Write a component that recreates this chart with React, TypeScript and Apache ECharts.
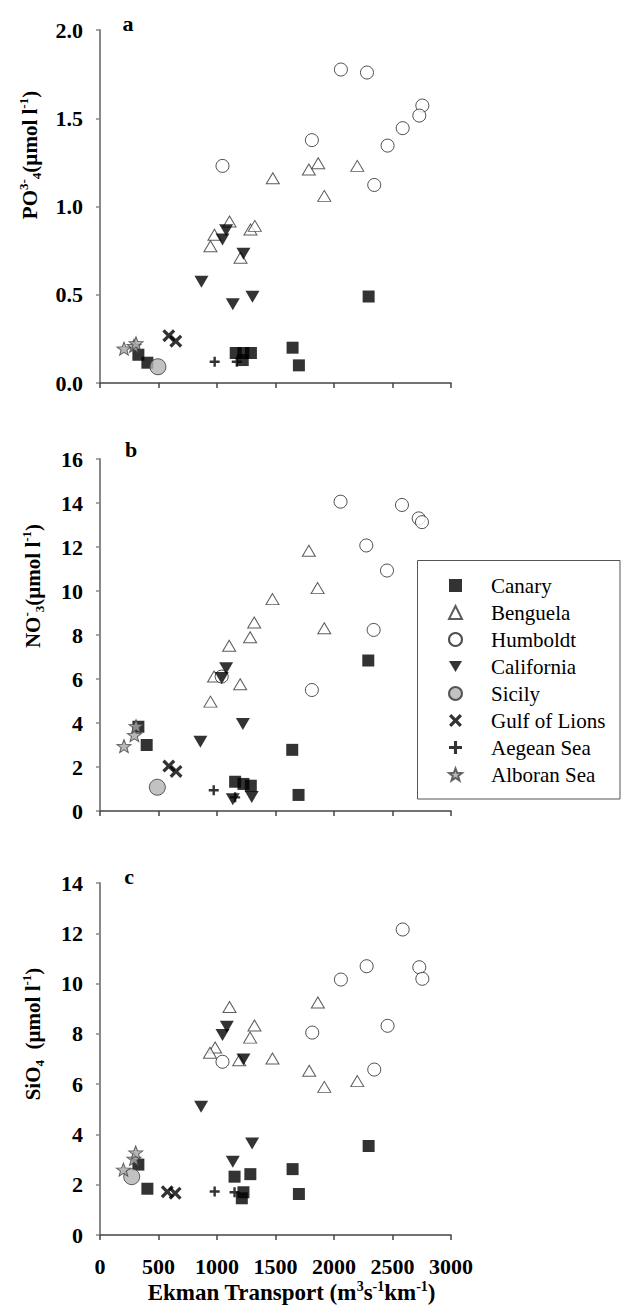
import React, { useEffect, useRef } from "react";
import * as echarts from "echarts";

// ---------- categories ----------
const regions = ["Canary", "Benguela", "Humboldt", "California", "Sicily", "Gulf of Lions", "Aegean Sea", "Alboran Sea"];

// ---------- axis ranges / ticks ----------
const xRange = [0, 3000, 500];
const po4Range = [0, 2, 0.5];
const no3Range = [0, 16, 2];
const sio4Range = [0, 14, 2];

// ---------- panel a : PO4 ----------
const canaryPO4 = [[2296, 0.49], [1646, 0.2], [1700, 0.1], [1160, 0.17], [1225, 0.17], [1290, 0.17], [1220, 0.13], [328, 0.16], [405, 0.115]];
const benguelaPO4 = [[1477, 1.16], [1785, 1.21], [1865, 1.245], [2199, 1.23], [1917, 1.06], [1107, 0.915], [978, 0.84], [944, 0.775], [1286, 0.87], [1323, 0.89], [1201, 0.71]];
const humboldtPO4 = [[2059, 1.776], [2282, 1.759], [2755, 1.572], [2729, 1.515], [2587, 1.444], [1811, 1.376], [2458, 1.345], [1047, 1.23], [2344, 1.122]];
const californiaPO4 = [[1078, 0.865], [1047, 0.813], [1226, 0.733], [867, 0.573], [1303, 0.488], [1135, 0.446]];
const sicilyPO4 = [[495, 0.092]];
const gulfPO4 = [[588, 0.268], [648, 0.237]];
const aegeanPO4 = [[980, 0.12], [1169, 0.12]];
const alboranPO4 = [[205, 0.195], [290, 0.21], [308, 0.225]];

// ---------- panel b : NO3 ----------
const canaryNO3 = [[2293, 6.84], [1643, 2.78], [1697, 0.73], [1155, 1.33], [1226, 1.23], [1289, 1.15], [399, 3.0], [328, 3.83]];
const benguelaNO3 = [[1785, 11.83], [1860, 10.13], [1474, 9.63], [1318, 8.57], [1917, 8.31], [1283, 7.9], [1104, 7.51], [975, 6.11], [1198, 5.76], [944, 4.97]];
const humboldtNO3 = [[2056, 14.06], [2581, 13.91], [2724, 13.3], [2752, 13.13], [2276, 12.07], [2453, 10.93], [2339, 8.23], [1811, 5.5], [1040, 6.11]];
const californiaNO3 = [[1078, 6.49], [1041, 6.04], [1221, 3.96], [858, 3.15], [1135, 0.53], [1297, 0.64]];
const sicilyNO3 = [[490, 1.08]];
const gulfNO3 = [[588, 2.04], [650, 1.8]];
const aegeanNO3 = [[972, 0.94], [1155, 0.62]];
const alboranNO3 = [[205, 2.95], [294, 3.45], [308, 3.86]];

// ---------- panel c : SiO4 ----------
const canarySiO4 = [[2296, 3.54], [1646, 2.62], [1700, 1.63], [1150, 2.32], [1285, 2.42], [1226, 1.7], [1212, 1.46], [405, 1.84], [328, 2.8]];
const benguelaSiO4 = [[1107, 9.07], [1862, 9.25], [1320, 8.33], [1283, 7.85], [984, 7.46], [940, 7.25], [1190, 6.95], [1474, 7.02], [1788, 6.53], [1917, 5.89], [2199, 6.12]];
const humboldtSiO4 = [[2587, 12.15], [2279, 10.69], [2729, 10.65], [2059, 10.16], [2755, 10.19], [2458, 8.32], [1814, 8.05], [1047, 6.89], [2344, 6.58]];
const californiaSiO4 = [[1084, 8.28], [1047, 7.95], [1226, 6.98], [864, 5.1], [1300, 3.64], [1135, 2.91]];
const sicilySiO4 = [[271, 2.32]];
const gulfSiO4 = [[575, 1.72], [642, 1.66]];
const aegeanSiO4 = [[980, 1.73], [1150, 1.7]];
const alboranSiO4 = [[200, 2.6], [290, 3.03], [305, 3.28]];

const panelData = [
  [canaryPO4, benguelaPO4, humboldtPO4, californiaPO4, sicilyPO4, gulfPO4, aegeanPO4, alboranPO4],
  [canaryNO3, benguelaNO3, humboldtNO3, californiaNO3, sicilyNO3, gulfNO3, aegeanNO3, alboranNO3],
  [canarySiO4, benguelaSiO4, humboldtSiO4, californiaSiO4, sicilySiO4, gulfSiO4, aegeanSiO4, alboranSiO4],
];

// ---------- symbols ----------
const X_PATH = "path://M0,18L18,0L50,32L82,0L100,18L68,50L100,82L82,100L50,68L18,100L0,82L32,50Z";
const PLUS_PATH = "path://M38,0H62V38H100V62H62V100H38V62H0V38H38Z";
const INV_TRI = "path://M0,0L100,0L50,86Z";
const STAR_PATH = "path://M50,0L62.3,33L97.6,34.6L70,56.5L79.4,90.5L50,71L20.6,90.5L30,56.5L2.4,34.6L37.7,33Z";

const styles: any[] = [
  { symbol: "rect", symbolSize: 12, itemStyle: { color: "#000" } },
  { symbol: "triangle", symbolSize: [13, 11], itemStyle: { color: "#fff", borderColor: "#333", borderWidth: 1 } },
  { symbol: "circle", symbolSize: 13, itemStyle: { color: "#fff", borderColor: "#222", borderWidth: 1 } },
  { symbol: INV_TRI, symbolSize: [14, 12], itemStyle: { color: "#000" } },
  { symbol: "circle", symbolSize: 16, itemStyle: { color: "#b3b3b3", borderColor: "#333", borderWidth: 1 } },
  { symbol: X_PATH, symbolSize: 13, itemStyle: { color: "#000" } },
  { symbol: PLUS_PATH, symbolSize: 10, itemStyle: { color: "#000" } },
  { symbol: STAR_PATH, symbolSize: [14, 13], itemStyle: { color: "#a6a6a6", borderColor: "#444", borderWidth: 1 } },
];
const drawOrder = [1, 2, 3, 6, 0, 5, 4, 7];

const SERIF = "Liberation Serif";

const richTitle = {
  n: { fontSize: 21, fontWeight: "bold", fontFamily: SERIF, color: "#000", lineHeight: 26, verticalAlign: "middle" },
  sup: { fontSize: 13, fontWeight: "bold", fontFamily: SERIF, color: "#000", lineHeight: 13, verticalAlign: "top" },
  sub: { fontSize: 13, fontWeight: "bold", fontFamily: SERIF, color: "#000", lineHeight: 13, verticalAlign: "bottom" },
};

const gridBoxes = [
  { left: 100, top: 30, width: 351, height: 353 },
  { left: 100, top: 459, width: 351, height: 352 },
  { left: 100, top: 883, width: 351, height: 352 },
];
const yRanges = [po4Range, no3Range, sio4Range];

export default function App() {
  const ref = useRef<HTMLDivElement>(null);
  useEffect(() => {
    if (!ref.current) return;
    const chart = echarts.init(ref.current, null, { renderer: "svg" });

    const xAxis = gridBoxes.map((_, i) => ({
      type: "value",
      gridIndex: i,
      min: xRange[0],
      max: xRange[1],
      interval: xRange[2],
      axisLine: { show: true, lineStyle: { color: "#444", width: 1.5 } },
      axisTick: { show: true, length: 5, lineStyle: { color: "#444", width: 1.5 } },
      axisLabel: {
        show: i === 2,
        margin: 20,
        color: "#000",
        fontSize: 22,
        fontWeight: "bold",
        fontFamily: SERIF,
        formatter: (v: number) => String(v),
      },
      splitLine: { show: false },
      name: i === 2 ? "{n|Ekman Transport (m}{sup|3}{n|s}{sup|-1}{n|km}{sup|-1}{n|)}" : "",
      nameLocation: "middle",
      nameGap: 44,
      nameTextStyle: {
        fontFamily: SERIF,
        padding: [0, 0, 0, 32],
        rich: {
          n: { fontSize: 23, fontWeight: "bold", fontFamily: SERIF, color: "#000", lineHeight: 27, verticalAlign: "middle" },
          sup: { fontSize: 14, fontWeight: "bold", fontFamily: SERIF, color: "#000", lineHeight: 14, verticalAlign: "top" },
        },
      },
    }));

    const yAxis = gridBoxes.map((_, i) => ({
      type: "value",
      gridIndex: i,
      min: yRanges[i][0],
      max: yRanges[i][1],
      interval: yRanges[i][2],
      axisLine: { show: true, lineStyle: { color: "#888", width: 2 } },
      axisTick: { show: true, length: 4, lineStyle: { color: "#888", width: 1.5 } },
      axisLabel: {
        margin: 17,
        color: "#000",
        fontSize: 22,
        fontWeight: "bold",
        fontFamily: SERIF,
        formatter: (v: number) => (i === 0 ? v.toFixed(1) : String(v)),
      },
      splitLine: { show: false },
    }));

    const series: any[] = [];
    for (let p = 0; p < 3; p++) {
      for (const r of drawOrder) {
        series.push({
          type: "scatter",
          name: regions[r],
          xAxisIndex: p,
          yAxisIndex: p,
          data: panelData[p][r],
          ...styles[r],
          emphasis: { disabled: true },
        });
      }
    }

    const yTitles = [
      { x: 30, y: 155, text: "{n|PO}{sup|3-}{sub|4}{n|(µmol l}{sup|-1}{n|)}" },
      { x: 33, y: 586, text: "{n|NO}{sup|-}{sub|3}{n|(µmol l}{sup|-1}{n|)}" },
      { x: 33, y: 1034, text: "{n|SiO}{sub|4}{n|  (µmol l}{sup|-1}{n|)}" },
    ];
    const letters = [
      { x: 128, y: 23, t: "a" },
      { x: 131, y: 449, t: "b" },
      { x: 129, y: 876, t: "c" },
    ];

    const graphic: any[] = [
      ...yTitles.map((t) => ({
        type: "text",
        x: t.x,
        y: t.y,
        rotation: Math.PI / 2,
        style: {
          text: t.text,
          rich: richTitle,
          fontFamily: SERIF,
          x: 0,
          y: 0,
          align: "center",
          verticalAlign: "middle",
          textAlign: "center",
          textVerticalAlign: "middle",
        },
      })),
      ...letters.map((l) => ({
        type: "text",
        x: l.x,
        y: l.y,
        style: {
          text: l.t,
          fill: "#000",
          fontSize: 22,
          fontWeight: "bold",
          fontFamily: SERIF,
          align: "center",
          verticalAlign: "middle",
          textAlign: "center",
          textVerticalAlign: "middle",
        },
      })),
      {
        type: "rect",
        shape: { x: 417.5, y: 560.5, width: 202.5, height: 238.5 },
        style: { fill: "rgba(0,0,0,0)", stroke: "#555", lineWidth: 1 },
        z: 0,
      },
    ];

    chart.setOption({
      animation: false,
      backgroundColor: "#fff",
      textStyle: { fontFamily: SERIF },
      grid: gridBoxes.map((g) => ({ ...g, containLabel: false })),
      xAxis,
      yAxis,
      series,
      legend: {
        orient: "vertical",
        left: 448,
        top: 573.5,
        padding: 0,
        itemWidth: 13,
        itemHeight: 13,
        itemGap: 3,
        selectedMode: false,
        data: regions,
        textStyle: {
          fontSize: 21,
          lineHeight: 24,
          fontFamily: SERIF,
          color: "#000",
          padding: [0, 0, 0, 24],
        },
      },
      graphic,
    });
    return () => chart.dispose();
  }, []);
  return (
    <div
      ref={ref}
      style={{ position: "absolute", left: 0, top: 0, width: 621, height: 1316, background: "#fff" }}
    />
  );
}
